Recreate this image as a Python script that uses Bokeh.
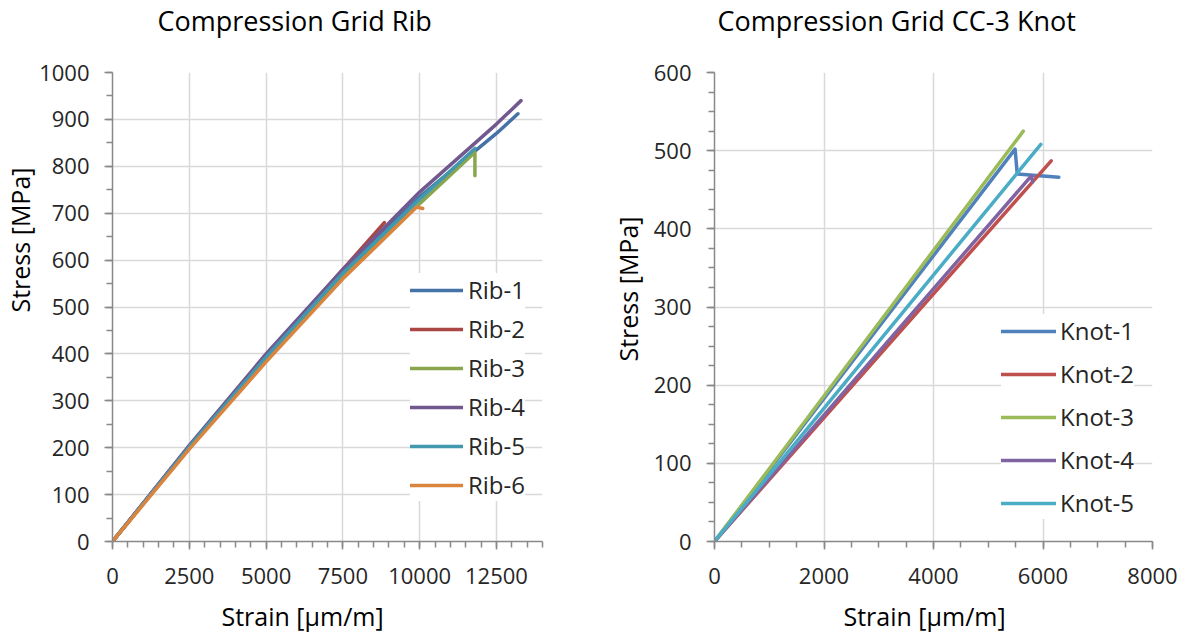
from bokeh.plotting import figure
from bokeh.layouts import row
from bokeh.models import Range1d, SingleIntervalTicker, Legend, LegendItem, Title
from bokeh.embed import file_html
from bokeh.resources import INLINE

# ---------------- data: left chart (Compression Grid Rib) ----------------
rib_names = ["Rib-1", "Rib-2", "Rib-3", "Rib-4", "Rib-5", "Rib-6"]
rib_colors = ["#4572A7", "#AA4643", "#89A54E", "#71588F", "#4198AF", "#DB843D"]
rib1_x = [0, 2500, 5000, 7500, 10000, 12500, 13200]
rib1_y = [0, 203, 395, 575, 735, 870, 912]
rib2_x = [0, 2500, 5000, 7500, 8850]
rib2_y = [0, 203, 397, 580, 680]
rib3_x = [0, 2500, 5000, 7500, 10000, 11800, 11800]
rib3_y = [0, 200, 390, 565, 720, 830, 780]
rib4_x = [0, 2500, 5000, 7500, 10000, 12500, 13300]
rib4_y = [0, 205, 400, 580, 745, 890, 940]
rib5_x = [0, 2500, 5000, 7500, 10000, 11800]
rib5_y = [0, 202, 393, 572, 730, 838]
rib6_x = [0, 2500, 5000, 7500, 9900, 10100]
rib6_y = [0, 197, 383, 560, 713, 710]
rib_x = [rib1_x, rib2_x, rib3_x, rib4_x, rib5_x, rib6_x]
rib_y = [rib1_y, rib2_y, rib3_y, rib4_y, rib5_y, rib6_y]

# ---------------- data: right chart (Compression Grid CC-3 Knot) ----------------
knot_names = ["Knot-1", "Knot-2", "Knot-3", "Knot-4", "Knot-5"]
knot_colors = ["#4F81BD", "#C0504D", "#9BBB59", "#8064A2", "#4BACC6"]
knot1_x = [0, 5490, 5530, 6290]
knot1_y = [0, 502, 470, 466]
knot2_x = [0, 6150]
knot2_y = [0, 487]
knot3_x = [0, 5640]
knot3_y = [0, 525]
knot4_x = [0, 5790, 5810]
knot4_y = [0, 468, 460]
knot5_x = [0, 5960]
knot5_y = [0, 508]
knot_x = [knot1_x, knot2_x, knot3_x, knot4_x, knot5_x]
knot_y = [knot1_y, knot2_y, knot3_y, knot4_y, knot5_y]

FONT = "Open Sans"
TXT = "#262626"
AXC = "#898989"
GRID = "#D9D9D9"


def make_fig(width, xmax, ymax, xint, xminor, yint, yminor,
             border_left, border_right, border_top, title, title_offset,
             ylab_offset, ylab_standoff, xlab_offset):
    p = figure(width=width, height=635, x_range=Range1d(0, xmax), y_range=Range1d(0, ymax),
               output_backend="svg", toolbar_location=None,
               min_border_left=border_left, min_border_right=border_right,
               min_border_top=border_top, min_border_bottom=93)
    p.outline_line_color = None
    p.background_fill_color = "white"
    p.border_fill_color = "white"

    p.title.text = title + "\n"
    p.title.align = "left"
    p.title.offset = title_offset
    p.title.vertical_align = "bottom"
    p.title.text_font = FONT
    p.title.text_font_size = "27px"
    p.title.text_line_height = 0.9
    p.title.text_font_style = "normal"
    p.title.text_color = "#000000"
    p.title.standoff = 0

    p.xaxis.ticker = SingleIntervalTicker(interval=xint, num_minor_ticks=xminor)
    p.yaxis.ticker = SingleIntervalTicker(interval=yint, num_minor_ticks=yminor)
    p.xgrid.ticker = p.xaxis.ticker
    p.ygrid.ticker = p.yaxis.ticker
    for ax in (p.xaxis, p.yaxis):
        ax.axis_line_color = AXC
        ax.axis_line_width = 1.5
        ax.major_tick_line_color = AXC
        ax.minor_tick_line_color = AXC
        ax.major_tick_line_width = 1.5
        ax.minor_tick_line_width = 1.5
        ax.major_tick_out = 8
        ax.major_tick_in = 0
        ax.minor_tick_out = 6
        ax.minor_tick_in = 0
        ax.major_label_text_font = FONT
        ax.major_label_text_font_size = "22px"
        ax.major_label_text_color = TXT
    p.xaxis.major_label_standoff = 18
    p.yaxis.major_label_standoff = 15
    p.xgrid.grid_line_color = GRID
    p.ygrid.grid_line_color = GRID
    p.xgrid.grid_line_width = 1.5
    p.ygrid.grid_line_width = 1.5

    ylab = Title(text="Stress [MPa]", align="left", offset=ylab_offset, vertical_align="bottom",
                 text_font=FONT, text_font_size="25px", text_font_style="normal",
                 text_color="#000000", standoff=ylab_standoff)
    p.add_layout(ylab, "left")
    xlab = Title(text="\nStrain [\u00b5m/m]", align="left", offset=xlab_offset, vertical_align="top",
                 text_font=FONT, text_font_size="25px", text_font_style="normal",
                 text_line_height=0.38, text_color="#000000", standoff=0)
    p.add_layout(xlab, "below")
    return p


# ---------------- left chart ----------------
p1 = make_fig(588, 14000, 1000, 2500, 5, 100, 2, 112, 46, 72,
              "Compression Grid Rib", 45, 229, 0, 109)
items1 = []
for name, col, xs, ys in zip(rib_names, rib_colors, rib_x, rib_y):
    r = p1.line(xs, ys, line_color=col, line_width=3.5, line_cap="round", line_join="round")
    items1.append(LegendItem(label=name, renderers=[r]))
leg1 = Legend(items=items1, location=(298, 40), glyph_width=53, glyph_height=24,
              label_height=24, spacing=6, padding=8, margin=0, label_standoff=5,
              label_text_font=FONT, label_text_font_size="24px", label_text_color=TXT,
              border_line_color=None, background_fill_color="white", background_fill_alpha=1.0)
p1.add_layout(leg1, "center")

# ---------------- right chart ----------------
p2 = make_fig(598, 8000, 600, 2000, 4, 100, 4, 126, 34, 71,
              "Compression Grid CC-3 Knot", 3, 180, 12, 129)
items2 = []
for name, col, xs, ys in zip(knot_names, knot_colors, knot_x, knot_y):
    r = p2.line(xs, ys, line_color=col, line_width=3.5, line_cap="round", line_join="round")
    items2.append(LegendItem(label=name, renderers=[r]))
leg2 = Legend(items=items2, location=(287, 22), glyph_width=55, glyph_height=24,
              label_height=24, spacing=10, padding=8, margin=0, label_standoff=4,
              label_text_font=FONT, label_text_font_size="24px", label_text_color=TXT,
              border_line_color=None, background_fill_color="white", background_fill_alpha=1.0)
p2.add_layout(leg2, "center")

layout = row(p1, p2)
open("out.html", "w").write(file_html(layout, INLINE))
